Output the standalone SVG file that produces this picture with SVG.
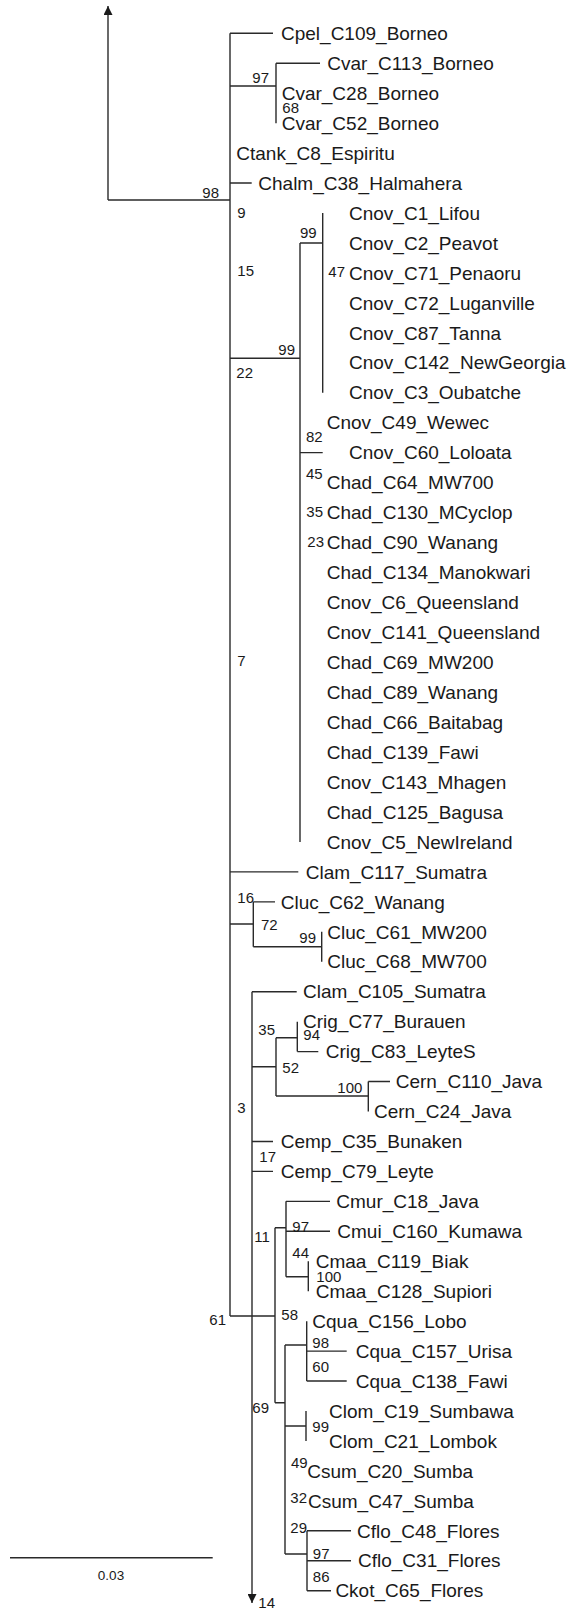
<svg xmlns="http://www.w3.org/2000/svg" width="570" height="1612" viewBox="0 0 570 1612">
<style>
.bg{fill:#ffffff}
.c{fill:none;stroke:#2a2a2a;stroke-width:1.4}
.t{font-family:"Liberation Sans",Arial,sans-serif;font-size:19px;fill:#1a1a1a}
.s{font-family:"Liberation Sans",Arial,sans-serif;font-size:15px;fill:#1a1a1a}
.sc{font-family:"Liberation Sans",Arial,sans-serif;font-size:13.5px;fill:#1a1a1a}
</style>
<defs>
<marker id="ah" viewBox="0 0 10 10" refX="10" refY="5" markerWidth="9" markerHeight="9" markerUnits="userSpaceOnUse" orient="auto">
<path d="M0,0 L10,5 L0,10 z" fill="#1a1a1a"/>
</marker>
</defs>
<rect class="bg" x="0" y="0" width="570" height="1612"/>
<g id="connectors">
<path class="c" d="M108,200 V6" marker-end="url(#ah)"/>
<path class="c" d="M252,991.7 V1603" marker-end="url(#ah)"/>
<path class="c" d="M108,200 H230 M230,33.3 V1316 M230,33.3 H273 M230,86 H276 M276,63.25 V123.15 M276,63.25 H320 M230,183.05 H251.7 M230,358.3 H300 M300,243 V841.95 M300,243 H322.7 M322.7,213 V392.7 M300,452.6 H322.7 M230,871.9 H298.3 M230,924 H253.3 M253.3,901.85 V946.7 M253.3,901.85 H275 M253.3,946.7 H321.7 M321.7,931.8 V961.75 M252,991.7 H296.7 M252,1066.7 H276 M276,1037.7 V1096 M276,1037.7 H297.3 M297.3,1021.65 V1051.6 M297.3,1051.6 H318.3 M276,1096 H368.3 M368.3,1081.55 V1111.5 M368.3,1081.55 H390 M252,1141.45 H273 M252,1171.4 H273 M230,1316 H275 M275,1227.7 V1402.7 M275,1227.7 H286 M286,1201.35 V1276.7 M286,1201.35 H330 M286,1231.3 H330 M286,1276.7 H308.3 M308.3,1261.25 V1291.2 M275,1402.7 H285 M285,1345 V1554 M285,1345 H306.7 M306.7,1321.15 V1381.05 M306.7,1351.1 H346.7 M306.7,1381.05 H346.7 M285,1426 H306 M306,1411 V1441 M285,1554 H307 M307,1530.8 V1590.7 M307,1530.8 H351 M307,1560.75 H351 M307,1590.7 H331"/>
</g>
<g id="scalebar">
<path class="c" d="M10,1557.7 H212.7"/>
<text class="sc" x="111" y="1580" text-anchor="middle">0.03</text>
</g>
<g id="n0"><text class="t" x="281" y="40">Cpel_C109_Borneo</text></g>
<g id="n1"><text class="t" x="327.3" y="69.95">Cvar_C113_Borneo</text></g>
<g id="n2"><text class="t" x="281.7" y="99.9">Cvar_C28_Borneo</text></g>
<g id="n3"><text class="t" x="281.7" y="129.85">Cvar_C52_Borneo</text></g>
<g id="n4"><text class="t" x="236.3" y="159.8">Ctank_C8_Espiritu</text></g>
<g id="n5"><text class="t" x="258.3" y="189.75">Chalm_C38_Halmahera</text></g>
<g id="n6"><text class="t" x="349" y="219.7">Cnov_C1_Lifou</text></g>
<g id="n7"><text class="t" x="349" y="249.65">Cnov_C2_Peavot</text></g>
<g id="n8"><text class="t" x="349" y="279.6">Cnov_C71_Penaoru</text></g>
<g id="n9"><text class="t" x="349" y="309.55">Cnov_C72_Luganville</text></g>
<g id="n10"><text class="t" x="349" y="339.5">Cnov_C87_Tanna</text></g>
<g id="n11"><text class="t" x="349" y="369.45">Cnov_C142_NewGeorgia</text></g>
<g id="n12"><text class="t" x="349" y="399.4">Cnov_C3_Oubatche</text></g>
<g id="n13"><text class="t" x="326.7" y="429.35">Cnov_C49_Wewec</text></g>
<g id="n14"><text class="t" x="349" y="459.3">Cnov_C60_Loloata</text></g>
<g id="n15"><text class="t" x="326.7" y="489.25">Chad_C64_MW700</text></g>
<g id="n16"><text class="t" x="326.7" y="519.2">Chad_C130_MCyclop</text></g>
<g id="n17"><text class="t" x="326.7" y="549.15">Chad_C90_Wanang</text></g>
<g id="n18"><text class="t" x="326.7" y="579.1">Chad_C134_Manokwari</text></g>
<g id="n19"><text class="t" x="326.7" y="609.05">Cnov_C6_Queensland</text></g>
<g id="n20"><text class="t" x="326.7" y="639">Cnov_C141_Queensland</text></g>
<g id="n21"><text class="t" x="326.7" y="668.95">Chad_C69_MW200</text></g>
<g id="n22"><text class="t" x="326.7" y="698.9">Chad_C89_Wanang</text></g>
<g id="n23"><text class="t" x="326.7" y="728.85">Chad_C66_Baitabag</text></g>
<g id="n24"><text class="t" x="326.7" y="758.8">Chad_C139_Fawi</text></g>
<g id="n25"><text class="t" x="326.7" y="788.75">Cnov_C143_Mhagen</text></g>
<g id="n26"><text class="t" x="326.7" y="818.7">Chad_C125_Bagusa</text></g>
<g id="n27"><text class="t" x="326.7" y="848.65">Cnov_C5_NewIreland</text></g>
<g id="n28"><text class="t" x="305.7" y="878.6">Clam_C117_Sumatra</text></g>
<g id="n29"><text class="t" x="280.7" y="908.55">Cluc_C62_Wanang</text></g>
<g id="n30"><text class="t" x="327.3" y="938.5">Cluc_C61_MW200</text></g>
<g id="n31"><text class="t" x="327.3" y="968.45">Cluc_C68_MW700</text></g>
<g id="n32"><text class="t" x="303" y="998.4">Clam_C105_Sumatra</text></g>
<g id="n33"><text class="t" x="303" y="1028.35">Crig_C77_Burauen</text></g>
<g id="n34"><text class="t" x="325.7" y="1058.3">Crig_C83_LeyteS</text></g>
<g id="n35"><text class="t" x="395.7" y="1088.25">Cern_C110_Java</text></g>
<g id="n36"><text class="t" x="374" y="1118.2">Cern_C24_Java</text></g>
<g id="n37"><text class="t" x="280.7" y="1148.15">Cemp_C35_Bunaken</text></g>
<g id="n38"><text class="t" x="280.7" y="1178.1">Cemp_C79_Leyte</text></g>
<g id="n39"><text class="t" x="336.3" y="1208.05">Cmur_C18_Java</text></g>
<g id="n40"><text class="t" x="337.3" y="1238">Cmui_C160_Kumawa</text></g>
<g id="n41"><text class="t" x="315.7" y="1267.95">Cmaa_C119_Biak</text></g>
<g id="n42"><text class="t" x="315.7" y="1297.9">Cmaa_C128_Supiori</text></g>
<g id="n43"><text class="t" x="312.3" y="1327.85">Cqua_C156_Lobo</text></g>
<g id="n44"><text class="t" x="355.7" y="1357.8">Cqua_C157_Urisa</text></g>
<g id="n45"><text class="t" x="355.7" y="1387.75">Cqua_C138_Fawi</text></g>
<g id="n46"><text class="t" x="329" y="1417.7">Clom_C19_Sumbawa</text></g>
<g id="n47"><text class="t" x="329" y="1447.65">Clom_C21_Lombok</text></g>
<g id="n48"><text class="t" x="307.3" y="1477.6">Csum_C20_Sumba</text></g>
<g id="n49"><text class="t" x="308" y="1507.55">Csum_C47_Sumba</text></g>
<g id="n50"><text class="t" x="357" y="1537.5">Cflo_C48_Flores</text></g>
<g id="n51"><text class="t" x="358" y="1567.45">Cflo_C31_Flores</text></g>
<g id="n52"><text class="t" x="335.4" y="1597.4">Ckot_C65_Flores</text></g>
<g id="support">
<text class="s" x="252.3" y="82.7">97</text>
<text class="s" x="282.3" y="112.7">68</text>
<text class="s" x="202.3" y="198">98</text>
<text class="s" x="237.3" y="217.7">9</text>
<text class="s" x="300" y="238.3">99</text>
<text class="s" x="237.3" y="276">15</text>
<text class="s" x="328.3" y="276.7">47</text>
<text class="s" x="278.3" y="355">99</text>
<text class="s" x="236.3" y="378.3">22</text>
<text class="s" x="306" y="441.7">82</text>
<text class="s" x="306" y="479">45</text>
<text class="s" x="306.3" y="516.7">35</text>
<text class="s" x="307.3" y="546.7">23</text>
<text class="s" x="237.3" y="666">7</text>
<text class="s" x="237.3" y="903">16</text>
<text class="s" x="261" y="930">72</text>
<text class="s" x="299.3" y="943.3">99</text>
<text class="s" x="258.3" y="1035">35</text>
<text class="s" x="303.3" y="1040">94</text>
<text class="s" x="282.3" y="1073.3">52</text>
<text class="s" x="337.3" y="1093.3">100</text>
<text class="s" x="237.3" y="1113.3">3</text>
<text class="s" x="259.3" y="1161.7">17</text>
<text class="s" x="292.3" y="1232">97</text>
<text class="s" x="254.3" y="1242">11</text>
<text class="s" x="292.3" y="1258">44</text>
<text class="s" x="316.3" y="1281.7">100</text>
<text class="s" x="281.3" y="1320">58</text>
<text class="s" x="209.3" y="1325">61</text>
<text class="s" x="312.3" y="1348">98</text>
<text class="s" x="312.3" y="1371.7">60</text>
<text class="s" x="252.3" y="1413">69</text>
<text class="s" x="312.3" y="1431.7">99</text>
<text class="s" x="291" y="1468">49</text>
<text class="s" x="290.3" y="1503">32</text>
<text class="s" x="290.3" y="1533.3">29</text>
<text class="s" x="312.8" y="1559">97</text>
<text class="s" x="312.8" y="1581.7">86</text>
<text class="s" x="258.3" y="1608">14</text>
</g>
</svg>
